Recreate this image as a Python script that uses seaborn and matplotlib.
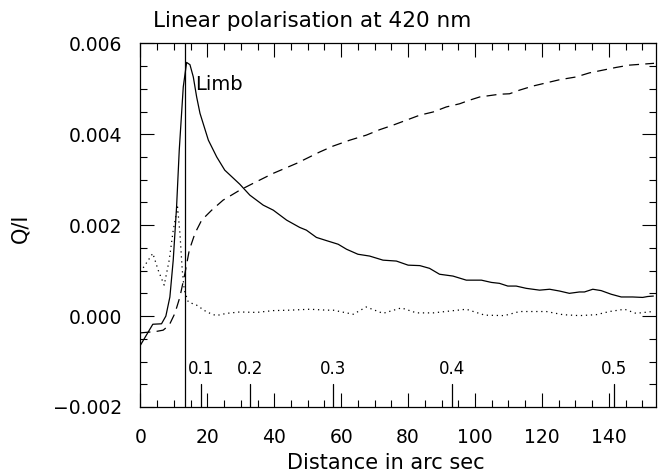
import numpy as np
import pandas as pd
import matplotlib
matplotlib.use("Agg")
import matplotlib.pyplot as plt
import seaborn as sns
from matplotlib.ticker import MultipleLocator, FuncFormatter

# ---- data ----
solid_x = [0.0, 3.7, 6.3, 7.6, 8.8, 9.8, 10.8, 11.6, 12.8, 13.8, 14.8, 15.8, 16.8, 17.8,
           20.3, 22.8, 25.2, 29.7, 32.7, 36.7, 39.7, 43.7, 47.6, 49.6, 52.6, 55.6, 59.1,
           61.6, 65.0, 68.5, 72.5, 76.5, 80.0, 83.5, 86.4, 89.4, 93.4, 97.4, 101.9, 104.9,
           107.3, 109.8, 112.3, 115.3, 119.3, 122.3, 125.3, 128.2, 131.2, 132.7, 135.2,
           137.7, 140.7, 143.7, 147.1, 150.1, 151.6, 153.3]
solid_y = [-0.00064, -0.00018, -0.00017, 0.0, 0.00042, 0.00123, 0.0024, 0.00365, 0.00504,
           0.00558, 0.00553, 0.00526, 0.00482, 0.00446, 0.00387, 0.0035, 0.00321, 0.0029,
           0.00266, 0.00244, 0.00233, 0.00211, 0.00195, 0.00189, 0.00173, 0.00166, 0.00158,
           0.00147, 0.00136, 0.00132, 0.00123, 0.00121, 0.00112, 0.00111, 0.00105, 0.00092,
           0.00088, 0.00079, 0.00079, 0.00074, 0.00072, 0.00066, 0.00066, 0.00061, 0.00057,
           0.00059, 0.00055, 0.0005, 0.00053, 0.00053, 0.00059, 0.00056, 0.00048, 0.00042,
           0.00042, 0.00041, 0.00043, 0.00044]

dashed_x = [0.0, 4.6, 6.8, 8.6, 10.3, 11.8, 13.3, 14.6, 16.3, 18.3, 21.3, 24.7, 29.7, 33.7,
            39.7, 46.7, 53.6, 57.6, 62.6, 67.5, 71.5, 75.5, 79.5, 83.5, 87.5, 91.4, 95.4,
            98.4, 101.4, 107.3, 110.3, 113.3, 117.3, 121.3, 125.3, 130.2, 134.2, 138.2,
            142.2, 146.1, 151.6, 153.5]
dashed_y = [-0.00037, -0.00034, -0.00031, -0.0002, 0.00006, 0.00042, 0.00094, 0.00145,
            0.00182, 0.00211, 0.00233, 0.00255, 0.00277, 0.00292, 0.00314, 0.00336, 0.00361,
            0.00374, 0.00387, 0.00398, 0.0041, 0.0042, 0.00431, 0.00442, 0.00449, 0.0046,
            0.00467, 0.00475, 0.00482, 0.00488, 0.00489, 0.00497, 0.00506, 0.00513, 0.0052,
            0.00526, 0.00535, 0.00541, 0.00547, 0.00552, 0.00555, 0.00556]

dotted_x = [0.0, 3.7, 5.3, 7.1, 8.6, 9.8, 11.1, 11.8, 12.5, 13.1, 14.3, 16.8, 19.8, 22.6,
            25.8, 29.7, 34.7, 39.7, 44.7, 50.6, 55.6, 57.6, 63.6, 67.5, 72.5, 78.0, 82.5,
            87.5, 92.4, 97.4, 102.9, 108.8, 113.3, 118.3, 121.3, 126.3, 131.2, 136.2, 140.2,
            144.7, 148.1, 153.1]
dotted_y = [0.00097, 0.00138, 0.00101, 0.00068, 0.00123, 0.00189, 0.0024, 0.00182, 0.00101,
            0.00057, 0.00031, 0.00024, 0.00009, 0.00001, 0.00006, 0.00009, 0.00008, 0.00012,
            0.00013, 0.00015, 0.00013, 0.00013, 0.00004, 0.0002, 0.00006, 0.00018, 0.00007,
            0.00007, 0.00011, 0.00015, 0.00002, 0.00001, 0.0001, 0.0001, 0.0001, 0.00003,
            0.00001, 0.00003, 0.0001, 0.00015, 0.00006, 0.0001]

limb_x = 13.3
sec_tick_x = [18.1, 32.7, 57.5, 93.2, 141.5]
sec_tick_labels = ["0.1", "0.2", "0.3", "0.4", "0.5"]

title = "Linear polarisation at 420 nm"
xlabel = "Distance in arc sec"
ylabel = "Q/I"

# ---- plotting ----
sns.set_style("ticks")
plt.rcParams["font.family"] = ["DejaVu Sans"]
plt.rcParams["text.color"] = "black"
plt.rcParams["axes.labelcolor"] = "black"

fig = plt.figure(figsize=(6.64, 4.75), dpi=100)
ax = fig.add_axes([0.2115, 0.1432, 0.7760, 0.7656])

df_s = pd.DataFrame({"x": solid_x, "y": solid_y})
df_d = pd.DataFrame({"x": dashed_x, "y": dashed_y})
df_o = pd.DataFrame({"x": dotted_x, "y": dotted_y})

lw = 0.9
sns.lineplot(data=df_s, x="x", y="y", ax=ax, color="black", lw=lw, sort=False)
sns.lineplot(data=df_d, x="x", y="y", ax=ax, color="black", lw=lw, sort=False)
ax.lines[-1].set_dashes((8, 5))
sns.lineplot(data=df_o, x="x", y="y", ax=ax, color="black", lw=lw, sort=False)
ax.lines[-1].set_dashes((1, 3))

ax.axvline(limb_x, color="black", lw=lw)
ax.text(16.3, 0.00497, "Limb", fontsize=14, color="black", ha="left", va="baseline")

ymin, ymax = -0.002, 0.006
ax.set_xlim(0, 154)
ax.set_ylim(ymin, ymax)

# secondary scale ticks along the bottom
for xv, lab in zip(sec_tick_x, sec_tick_labels):
    ax.plot([xv, xv], [ymin, ymin + 0.0005], color="black", lw=lw)
    ax.text(xv, ymin + 0.00072, lab, fontsize=12, ha="center", va="baseline")

ax.xaxis.set_major_locator(MultipleLocator(20))
ax.xaxis.set_minor_locator(MultipleLocator(5))
ax.yaxis.set_major_locator(MultipleLocator(0.002))
ax.yaxis.set_minor_locator(MultipleLocator(0.0005))
ax.yaxis.set_major_formatter(FuncFormatter(lambda v, p: f"{v:.3f}".replace("-", "\u2212")))

ax.tick_params(which="both", direction="in", top=True, right=True, colors="black",
               width=0.8)
ax.tick_params(which="major", length=10, labelsize=13.5)
ax.tick_params(which="minor", length=5)
ax.tick_params(axis="x", which="major", pad=15)
ax.tick_params(axis="y", which="major", pad=13)
for sp in ax.spines.values():
    sp.set_visible(True)
    sp.set_color("black")
    sp.set_linewidth(0.9)

ax.set_xlabel("")
ax.set_ylabel("")
fig.text(386 / 664, 1 - 463 / 475, xlabel, fontsize=15, ha="center", va="center")
fig.text(20.5 / 664, 1 - 228 / 475, ylabel, fontsize=15, ha="center", va="center",
         rotation=90)
fig.text(312 / 664, 1 - 21 / 475, title, fontsize=15.5, ha="center", va="center")

fig.savefig("out.png", dpi=100)
